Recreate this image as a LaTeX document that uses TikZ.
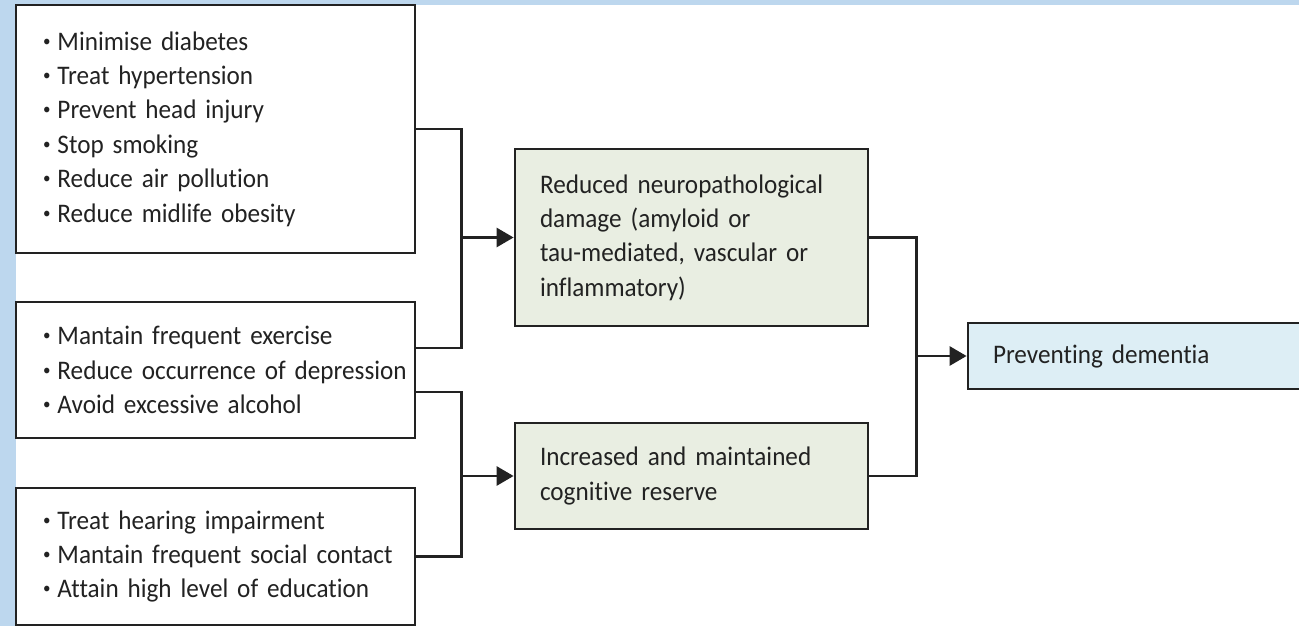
\documentclass[tikz,border=0pt]{standalone}
\usepackage{fontspec}
\setmainfont[Ligatures=NoCommon,FakeStretch=0.94]{Carlito}
\usepackage{xcolor}
\usetikzlibrary{arrows.meta}
\definecolor{pageblue}{HTML}{BDD7EE}
\definecolor{effectfill}{HTML}{E9EEE2}
\definecolor{goalfill}{HTML}{DDEEF5}
\definecolor{ink}{HTML}{222222}
\hyphenpenalty=10000
\DeclareRobustCommand{\boxfont}{\fontsize{26.8}{34.4}\selectfont\spaceskip=0.17em\relax}
\newcommand{\riskitem}[1]{\mbox{\raisebox{0.32ex}{\fontsize{16}{16}\selectfont\textbullet}\hspace{7pt}#1}}

\begin{document}
\begin{tikzpicture}[x=1pt,y=-1pt,
    box/.style={draw=ink,line width=2.8pt,inner xsep=0pt,inner ysep=0pt,
      align=left,text=ink,font=\boxfont},
    riskbox/.style={box,minimum width=399pt,text width=345pt},
    effectbox/.style={box,fill=effectfill,minimum width=353pt,text width=303pt},
    link/.style={draw=ink,line width=2.8pt},
    arrow/.style={link,-{Triangle[length=17pt,width=19pt]}}]
    \useasboundingbox (0,0) rectangle (1299,626);
    \fill[pageblue] (0,0) rectangle (1299,626);
    \fill[white] (16,5) rectangle (1299,626);

    % risk factors
    \node[riskbox,minimum height=248pt] (risk1) at (215.5,129) {\riskitem{Minimise diabetes}\\
      \riskitem{Treat hypertension}\\
      \riskitem{Prevent head injury}\\
      \riskitem{Stop smoking}\\
      \riskitem{Reduce air pollution}\\
      \riskitem{Reduce midlife obesity}};
    \node[riskbox,minimum height=136pt] (risk2) at (215.5,370) {\riskitem{Mantain frequent exercise}\\
      \riskitem{Reduce occurrence of depression}\\
      \riskitem{Avoid excessive alcohol}};
    \node[riskbox,minimum height=137pt] (risk3) at (215.5,556.5) {\riskitem{Treat hearing impairment}\\
      \riskitem{Mantain frequent social contact}\\
      \riskitem{Attain high level of education}};

    % mechanisms
    \node[effectbox,minimum height=177pt] (neuro) at (691.5,237.5) {Reduced neuropathological\\
      damage (amyloid or\\
      tau-mediated, vascular or\\
      inflammatory)};
    \node[effectbox,minimum height=106pt] (reserve) at (691.5,476) {Increased and maintained\\
      cognitive reserve};

    % outcome
    \node[box,fill=goalfill,minimum width=337pt,text width=287pt,minimum height=66pt] (goal) at (1136.5,356) {Preventing dementia};

    \coordinate (fork1) at ([xshift=-52pt]neuro.west);
    \coordinate (fork2) at ([xshift=-52pt]reserve.west);
    \coordinate (fork3) at ([xshift=-50pt]goal.west);

    \draw[link] (risk1.east) -| (fork1) |- ([yshift=22pt]risk2.east);
    \draw[link] ([yshift=-22pt]risk2.east) -| (fork2) |- (risk3.east);
    \draw[link] (neuro.east) -| (fork3) |- (reserve.east);
    \draw[arrow] (fork1) -- (neuro.west);
    \draw[arrow] (fork2) -- (reserve.west);
    \draw[arrow] (fork3) -- (goal.west);
  \end{tikzpicture}
\end{document}
